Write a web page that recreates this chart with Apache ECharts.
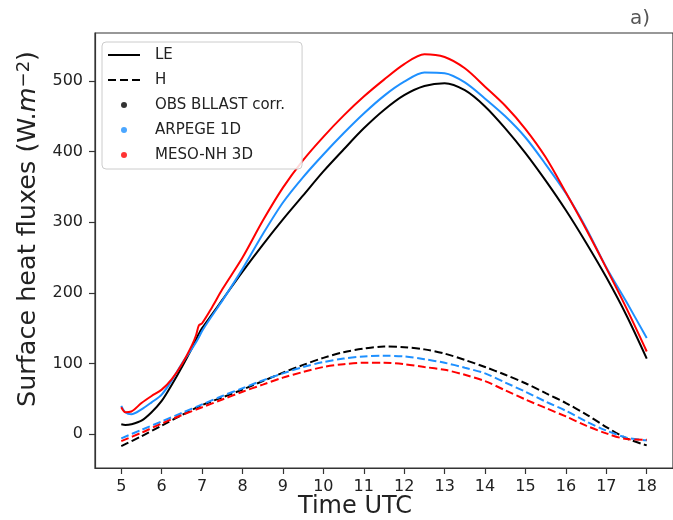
<!DOCTYPE html>
<html><head><meta charset="utf-8">
<script src="https://cdn.jsdelivr.net/npm/echarts@6/dist/echarts.min.js"></script>
<style>html,body{margin:0;padding:0;background:#fff}#c{width:673px;height:520px}</style>
</head><body><div id="c"></div>
<script>
// ---- data ----
const leTimes = [5, 5.1, 5.25, 5.5, 5.75, 6, 6.25, 6.5, 6.75, 6.85, 6.92, 7, 7.25, 7.5, 8, 8.5, 9, 9.5, 10, 10.5, 11, 11.5, 12, 12.5, 13, 13.5, 14, 14.5, 15, 15.5, 16, 16.5, 17, 17.5, 18];
const obsLE  = [14, 13, 14, 19, 31, 47, 70, 95, 122, 134, 142, 150, 170, 190, 230, 268, 304, 338, 372, 403, 433, 459, 480, 493, 497, 487, 464, 433, 398, 359, 317, 271, 222, 168, 107];
const arpLE  = [40, 31, 28, 35, 45, 56, 76, 100, 121, 130, 137, 146, 168, 189, 234, 283, 328, 364, 396, 426, 454, 479, 499, 512, 511, 498, 475, 450, 420, 382, 341, 292, 236, 187, 136];
const mesoLE = [38, 31, 32, 44, 54, 63, 78, 99, 126, 140, 154, 157, 180, 205, 250, 302, 349, 388, 421, 451, 478, 502, 524, 538, 534, 518, 492, 465, 432, 392, 342, 290, 235, 178, 117];

const hTimes = [5, 5.5, 6, 6.5, 7, 7.5, 8, 8.5, 9, 9.5, 10, 10.5, 11, 11.5, 12, 12.5, 13, 13.5, 14, 14.5, 15, 15.5, 16, 16.5, 17, 17.5, 18];
const obsH  = [-17, -3, 12, 27, 41, 52, 63, 75, 87, 98, 108, 116, 121, 124, 123, 120, 114, 105, 95, 84, 72, 58, 44, 28, 10, -6, -16];
const arpH  = [-6, 6, 18, 30, 42, 54, 65, 76, 86, 95, 102, 107, 110, 111, 110, 106, 101, 94, 86, 73, 60, 46, 33, 18, 5, -5, -9];
const mesoH = [-10, 2, 15, 27, 38, 49, 60, 70, 80, 88, 95, 99, 101, 101, 99, 95, 91, 84, 75, 62, 49, 37, 25, 12, 1, -7, -8];

const xTicks = [5, 6, 7, 8, 9, 10, 11, 12, 13, 14, 15, 16, 17, 18];
const yTicks = [0, 100, 200, 300, 400, 500];
const legendNames = ['LE', 'H', 'OBS BLLAST corr.', 'ARPEGE 1D', 'MESO-NH 3D'];

// ---- chart ----
const FONT = 'DejaVu Sans';
const C_OBS = '#000000', C_ARP = '#1e90ff', C_MESO = '#ff0000';
const DASH = [8, 3.5];
const ICON_SOLID = 'path://M0,0H32V2H0Z';
const ICON_DASH = 'path://M0,0H8V2H0Z M12,0H20V2H12Z M24,0H32V2H24Z';
const pairs = (t, v) => t.map((x, i) => [x, v[i]]);

function lineSeries(name, t, v, color, dashed) {
  return {
    name: name, type: 'line', data: pairs(t, v), smooth: 0.3,
    showSymbol: false, symbol: 'none', silent: true, animation: false,
    lineStyle: { color: color, width: 2, type: dashed ? DASH : 'solid' }
  };
}

const chart = echarts.init(document.getElementById('c'), null, { renderer: 'canvas' });
chart.setOption({
  animation: false,
  backgroundColor: '#ffffff',
  textStyle: { fontFamily: FONT },
  grid: { left: 95, right: -4.5, top: 33, bottom: 52, show: true, borderColor: '#333', borderWidth: 1.2, backgroundColor: 'transparent' },
  xAxis: {
    type: 'value', min: 4.35, max: 18.65,
    axisLine: { show: true, onZero: false, lineStyle: { color: '#333', width: 1.2 } },
    axisTick: { show: true, length: 6, customValues: xTicks, lineStyle: { color: '#333', width: 1.2 } },
    axisLabel: { customValues: xTicks, fontSize: 16, color: '#222', margin: 11, fontFamily: FONT },
    splitLine: { show: false }
  },
  yAxis: {
    type: 'value', min: -48, max: 568,
    axisLine: { show: true, onZero: false, lineStyle: { color: '#333', width: 1.2 } },
    axisTick: { show: true, length: 6, customValues: yTicks, lineStyle: { color: '#333', width: 1.2 } },
    axisLabel: { customValues: yTicks, fontSize: 16, color: '#222', margin: 12, fontFamily: FONT },
    splitLine: { show: false }
  },
  legend: {
    data: [
      { name: legendNames[0], icon: ICON_SOLID },
      { name: legendNames[1], icon: ICON_DASH },
      { name: legendNames[2], icon: 'circle' },
      { name: legendNames[3], icon: 'circle' },
      { name: legendNames[4], icon: 'circle' }
    ],
    orient: 'vertical', left: 102, top: 42,
    selectedMode: false, itemWidth: 32, itemHeight: 6, itemGap: 7,
    padding: [4, 17, 5, 6],
    backgroundColor: 'rgba(255,255,255,0.85)', borderColor: '#cccccc', borderWidth: 1, borderRadius: 4,
    textStyle: { fontSize: 15, color: '#222', fontFamily: FONT, lineHeight: 18, padding: [0, 0, 0, 10] }
  },
  graphic: [
    { type: 'text', x: 28, y: 229, rotation: Math.PI / 2,
      style: { text: 'Surface heat fluxes (W.{it|m}{sup|−2})', x: 0, y: 0, align: 'center', verticalAlign: 'middle',
        fontFamily: FONT, fontSize: 25.5, fill: '#222',
        rich: { it: { fontStyle: 'italic', fontSize: 25.5, fontFamily: FONT, fill: '#222' },
                sup: { fontSize: 18, fontFamily: FONT, verticalAlign: 'top', fill: '#222' } } } },
    { type: 'text', x: 355, y: 507,
      style: { text: 'Time UTC', align: 'center', verticalAlign: 'middle', fontFamily: FONT, fontSize: 24, fill: '#222' } },
    { type: 'text', x: 650, y: 19,
      style: { text: 'a)', align: 'right', verticalAlign: 'middle', fontFamily: FONT, fontSize: 20, fill: '#555' } }
  ],
  series: [
    { name: 'LE', type: 'line', data: [], symbol: 'none', lineStyle: { color: '#000', width: 2, type: 'solid' }, itemStyle: { color: '#000' } },
    { name: 'H', type: 'line', data: [], symbol: 'none', lineStyle: { color: '#000', width: 2, type: DASH }, itemStyle: { color: '#000' } },
    { name: 'OBS BLLAST corr.', type: 'scatter', data: [], symbol: 'circle', itemStyle: { color: C_OBS } },
    { name: 'ARPEGE 1D', type: 'scatter', data: [], symbol: 'circle', itemStyle: { color: C_ARP } },
    { name: 'MESO-NH 3D', type: 'scatter', data: [], symbol: 'circle', itemStyle: { color: C_MESO } },
    lineSeries('OBS LE', leTimes, obsLE, C_OBS, false),
    lineSeries('ARPEGE LE', leTimes, arpLE, C_ARP, false),
    lineSeries('MESO-NH LE', leTimes, mesoLE, C_MESO, false),
    lineSeries('OBS H', hTimes, obsH, C_OBS, true),
    lineSeries('ARPEGE H', hTimes, arpH, C_ARP, true),
    lineSeries('MESO-NH H', hTimes, mesoH, C_MESO, true)
  ]
});
</script>
</body></html>
